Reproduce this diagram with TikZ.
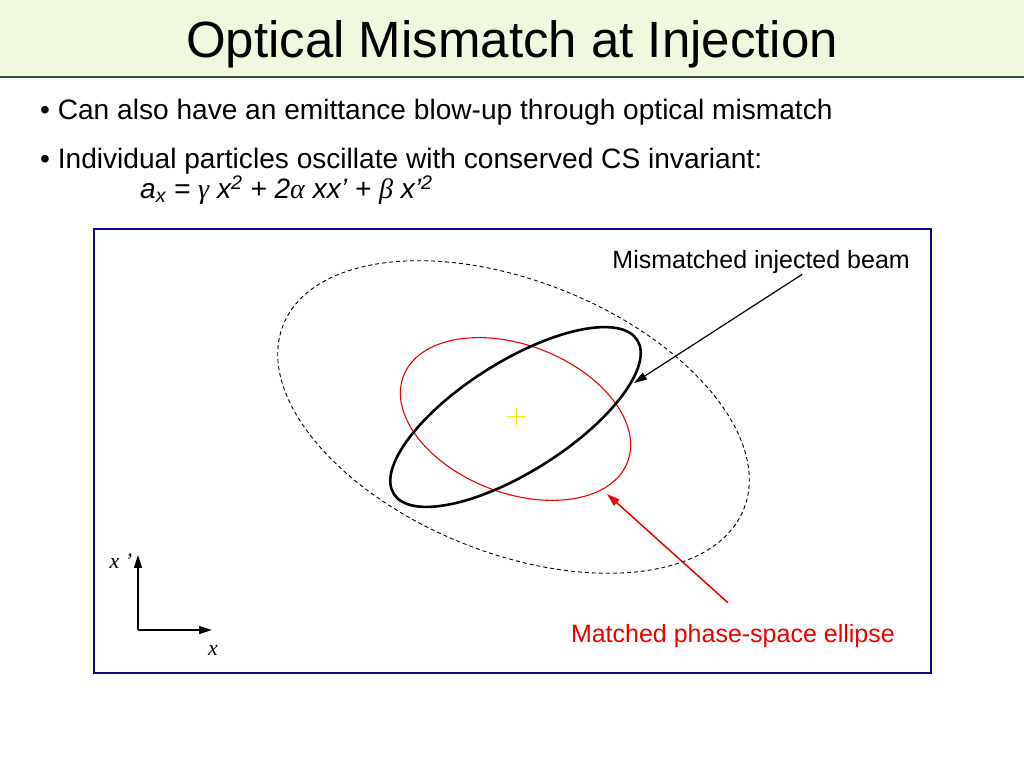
\documentclass[tikz,border=0pt]{standalone}
\usepackage{fontspec}
\setmainfont{Liberation Sans}
\newfontfamily\serifit{Liberation Serif}
\usetikzlibrary{arrows.meta}
\definecolor{titlebg}{RGB}{240,248,222}
\definecolor{titlerule}{RGB}{52,84,52}
\definecolor{framenavy}{RGB}{10,10,130}
\definecolor{beamred}{RGB}{235,0,0}
\definecolor{crossyellow}{RGB}{245,235,0}
\newcommand{\greek}[1]{{\serifit\itshape #1}}

\begin{document}
\begin{tikzpicture}[x=1pt, y=1pt, >={Triangle[length=13pt,width=8pt]}]
    \tikzstyle{title} = [anchor=base, inner sep=0pt, font=\fontsize{51}{60}\selectfont]
    \tikzstyle{bullet} = [anchor=base west, inner sep=0pt, font=\fontsize{28.1}{34}\selectfont]
    \tikzstyle{tag} = [anchor=base east, inner sep=0pt, font=\fontsize{25}{30}\selectfont]
    \tikzstyle{axislabel} = [inner sep=0pt, font=\serifit\itshape\fontsize{22}{26}\selectfont]
    \tikzstyle{line} = [draw, ->, line width=1.2pt]
    \tikzstyle{axis} = [draw, ->, line width=1.4pt]

    \useasboundingbox (0,0) rectangle (1024,768);

    % Title bar
    \fill[titlebg] (0,768) rectangle (1024,691);
    \draw[titlerule, line width=2.5pt] (0,691) -- (1024,691);
    \node[title] (title) at (512,710) {Optical Mismatch at Injection};

    % Bullets
    \node[bullet] (first) at (40,648) {• Can also have an emittance blow-up through optical mismatch};
    \node[bullet] (second) at (40,599) {• Individual particles oscillate with conserved CS invariant:};
    \node[bullet] (invariant) at (140,569) {\itshape a\textsubscript{x} = \greek{γ} x\textsuperscript{2} + 2\greek{α} xx’ + \greek{β} x’\textsuperscript{2}};

    % Frame
    \draw[framenavy, line width=2pt] (94,539) rectangle (931,95);

    % Ellipses
    \draw[dash pattern=on 4pt off 3pt, line width=0.9pt, rotate around={-21.8:(513.5,351)}] (513.5,351) ellipse [x radius=248pt, y radius=136pt];
    \draw[beamred, line width=1.1pt, rotate around={-21:(515.5,349)}] (515.5,349) ellipse [x radius=120pt, y radius=74pt];
    \draw[line width=2.6pt, rotate around={32.3:(515.5,351)}] (515.5,351) ellipse [x radius=144pt, y radius=55pt];
    \draw[crossyellow, line width=1pt] (507,351) -- (526,351) (516.5,343) -- (516.5,360);

    % Labels
    \coordinate (beamtip) at (634,385);
    \coordinate (matchtip) at (607,274);
    \node[tag] (beamlabel) at (910,499) {Mismatched injected beam};
    \node[tag, text=beamred] (matchlabel) at (895,126) {Matched phase-space ellipse};

    % Paths
    \path[line] ([xshift=41pt]beamlabel.south) -- (beamtip);
    \path[line, beamred, line width=1.5pt] ([xshift=-5pt, yshift=21pt]matchlabel.north) -- (matchtip);

    % Axes
    \coordinate (origin) at (138,138);
    \coordinate (xend) at (212,138);
    \coordinate (yend) at (138,213);
    \path[axis] (origin) -- (xend);
    \path[axis] (origin) -- (yend);
    \node[axislabel] (xlabel) at (213,118) {x};
    \node[axislabel] (xplabel) at (121,207) {x ’};
\end{tikzpicture}
\end{document}
